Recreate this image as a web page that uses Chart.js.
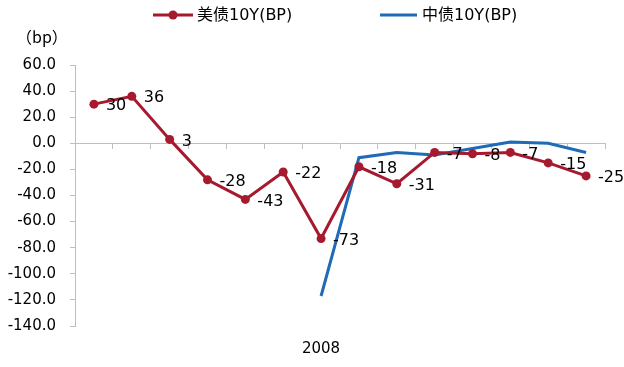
<!DOCTYPE html>
<html>
<head>
<meta charset="utf-8">
<style>
  html, body { margin: 0; padding: 0; background: #fff; }
  #wrap { width: 624px; height: 367px; position: relative; }
</style>
<script src="https://cdn.jsdelivr.net/npm/chart.js@4/dist/chart.umd.min.js"></script>
</head>
<body>
<div id="wrap"><canvas id="chart"></canvas></div>
<script>
// categories (only the middle one carries a label)
const categories = ['', '', '', '', '', '', '2008', '', '', '', '', '', '', ''];
// 美债10Y changes (bp)
const usValues = [30, 36, 3, -28, -43, -22, -73, -18, -31, -7, -8, -7, -15, -25];
// 中债10Y changes (bp), starts later
const cnValues = [null, null, null, null, null, null, -117, -11, -7, -9, -4, 1, 0, -7];
const seriesNames = ['美债10Y(BP)', '中债10Y(BP)'];
const unitLabel = '（bp）';
const yMin = -140, yMax = 60, yStep = 20;

const RED = '#A6192E';
const BLUE = '#1F6BB5';
const AXIS = '#BFBFBF';
const NUM_FONT = '"DejaVu Sans", "Liberation Sans", sans-serif';
const CJK_FONT = '"DejaVu Sans", "Noto Sans CJK SC", sans-serif';

// value labels next to the red points
const valueLabels = {
    id: 'valueLabels',
    afterDatasetsDraw(chart) {
        const ctx = chart.ctx;
        const meta = chart.getDatasetMeta(0);
        ctx.save();
        ctx.font = '16px ' + NUM_FONT;
        ctx.fillStyle = '#000';
        ctx.textAlign = 'left';
        ctx.textBaseline = 'middle';
        meta.data.forEach((pt, i) => {
            ctx.fillText(String(usValues[i]), pt.x + 12, pt.y + 2);
        });
        ctx.restore();
    },
};

// legend on top + unit text
const topLegend = {
    id: 'topLegend',
    afterDraw(chart) {
        const ctx = chart.ctx;
        ctx.save();
        const y = 15;
        // red item
        ctx.strokeStyle = RED;
        ctx.lineWidth = 3;
        ctx.beginPath();
        ctx.moveTo(153, y);
        ctx.lineTo(193, y);
        ctx.stroke();
        ctx.fillStyle = RED;
        ctx.beginPath();
        ctx.arc(173, y, 4.5, 0, Math.PI * 2);
        ctx.fill();
        // blue item
        ctx.strokeStyle = BLUE;
        ctx.beginPath();
        ctx.moveTo(380, y);
        ctx.lineTo(417, y);
        ctx.stroke();

        ctx.fillStyle = '#000';
        ctx.font = '16px ' + CJK_FONT;
        ctx.textBaseline = 'middle';
        ctx.textAlign = 'left';
        ctx.fillText(seriesNames[0], 197, y + 1);
        ctx.fillText(seriesNames[1], 422, y + 1);

        ctx.font = '16px "Noto Sans CJK SC", sans-serif';
        ctx.fillText(unitLabel, 16, 37);
        ctx.restore();
    },
};

new Chart(document.getElementById('chart'), {
    type: 'line',
    data: {
        labels: categories,
        datasets: [
            {
                label: seriesNames[0],
                data: usValues,
                borderColor: RED,
                backgroundColor: RED,
                borderWidth: 3,
                pointRadius: 4.5,
                pointBackgroundColor: RED,
                pointBorderWidth: 0,
                tension: 0,
                xAxisID: 'x',
            },
            {
                label: seriesNames[1],
                data: cnValues,
                borderColor: BLUE,
                backgroundColor: BLUE,
                borderWidth: 3,
                pointRadius: 0,
                tension: 0,
                spanGaps: false,
                xAxisID: 'x',
            },
        ],
    },
    options: {
        responsive: true,
        maintainAspectRatio: false,
        animation: false,
        layout: { padding: { left: 7, right: 19, top: 65, bottom: 11 } },
        plugins: {
            legend: { display: false },
            tooltip: { enabled: false },
        },
        scales: {
            x: {
                type: 'category',
                position: 'bottom',
                offset: true,
                grid: { display: false, drawTicks: false },
                border: { display: false },
                ticks: {
                    autoSkip: false,
                    maxRotation: 0,
                    padding: 14,
                    color: '#000',
                    font: { family: NUM_FONT, size: 15 },
                },
                afterFit: (scale) => { scale.height = 30; },
            },
            x0: {
                type: 'category',
                position: { y: 0 },
                offset: true,
                grid: {
                    offset: true,
                    drawOnChartArea: false,
                    drawTicks: true,
                    tickLength: 5,
                    color: AXIS,
                },
                border: { display: true, color: AXIS, width: 1 },
                ticks: { display: false },
            },
            y: {
                min: yMin,
                max: yMax,
                grid: {
                    drawOnChartArea: false,
                    drawTicks: true,
                    tickLength: 5,
                    color: AXIS,
                },
                border: { display: true, color: AXIS, width: 1 },
                ticks: {
                    stepSize: yStep,
                    padding: 14,
                    color: '#000',
                    font: { family: NUM_FONT, size: 15 },
                    callback: (v) => Number(v).toFixed(1),
                },
                afterFit: (scale) => { scale.width = 68; },
            },
        },
    },
    plugins: [valueLabels, topLegend],
});
</script>
</body>
</html>
